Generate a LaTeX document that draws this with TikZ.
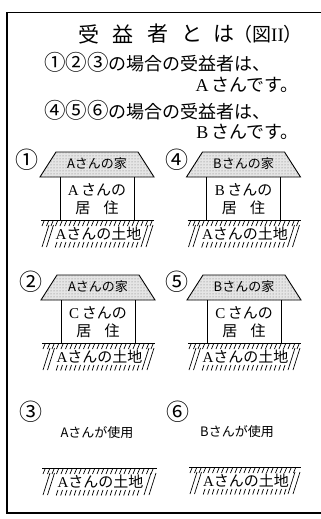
\documentclass[tikz,border=0pt]{standalone}
\usepackage{fontspec}
\setmainfont{Liberation Serif}
\newfontfamily\jp{Noto Sans CJK JP}
\newfontfamily\ser{Liberation Serif}
\newcommand\circnums[1]{{\fontsize{21.5}{21.5}\selectfont #1}}
\usetikzlibrary{patterns}
\tikzset{
  frameline/.style={line width=1.1pt},
  titlech/.style={font=\jp\fontsize{21}{21}\selectfont, inner sep=0},
  txt/.style={font=\jp\fontsize{18}{18}\selectfont, inner sep=0},
  num/.style={font=\jp\fontsize{23}{23}\selectfont, inner sep=0},
  rooflbl/.style={font=\jp\fontsize{13}{13}\selectfont, inner sep=0},
  bodylbl/.style={font=\jp\fontsize{15}{15}\selectfont, inner sep=0},
  uselbl/.style={font=\jp\fontsize{13}{13}\selectfont, inner sep=0},
  gndlbl/.style={font=\jp\fontsize{15}{15}\selectfont, inner sep=0},
  roofshape/.style={draw, line width=0.9pt, fill=black!10,
    postaction={pattern=dots, pattern color=black!55}},
  wall/.style={draw, line width=1pt},
  gndline/.style={line width=1pt},
  hatchtick/.style={line width=0.7pt},
}
% ground: #1 name, #2 x0, #3 width, #4 y, #5 owner letter
\newcommand\groundband[5]{%
  \draw[gndline] (#2,#4) -- ({#2+#3},#4);
  \foreach \t in {0,4.5,...,#3} {
    \pgfmathparse{#2+3+\t<#2+#3-1 ? 1 : 0}
    \ifnum\pgfmathresult=1
      \draw[hatchtick] ({#2+3+\t},{#4+1}) -- ++(-2,5);
    \fi
  }
  \foreach \t in {16,20.5,...,#3} {
    \pgfmathparse{#2+\t<#2+#3-14 ? 1 : 0}
    \ifnum\pgfmathresult=1
      \draw[hatchtick] ({#2+\t},{#4+22}) -- ++(-1.8,5.5);
    \fi
  }
  \draw[hatchtick] ({#2+8},{#4+5}) -- ({#2+1},{#4+27});
  \draw[hatchtick] ({#2+12.5},{#4+5}) -- ({#2+5.5},{#4+27});
  \draw[hatchtick] ({#2+#3-6},{#4+5}) -- ({#2+#3-13},{#4+27});
  \draw[hatchtick] ({#2+#3-1},{#4+5}) -- ({#2+#3-8},{#4+27});
  \node[gndlbl] (#1) at ({#2+#3/2+1},{#4+14}) {{\ser #5}さんの土地};
}
% house: #1 name, #2 cx, #3 roof top y, #4 house owner, #5 resident
\newcommand\house[5]{%
  \path[roofshape] ({#2-41},#3) -- ({#2+41},#3) -- ({#2+57},{#3+25}) -- ({#2-57},{#3+25}) -- cycle;
  \draw[wall] ({#2-37},{#3+25}) -- ({#2-37},{#3+68});
  \draw[wall] ({#2+37},{#3+25}) -- ({#2+37},{#3+68});
  \node[rooflbl] (#1roof) at (#2,{#3+12}) {#4さんの家};
  \node[bodylbl] (#1res) at (#2,{#3+38}) {{\ser #5}\,さんの};
  \node[bodylbl] (#1use) at (#2,{#3+56}) {居\hspace{0.9em}住};
  \groundband{#1land}{#2-56}{113}{#3+68}{A}
}
\begin{document}
\begin{tikzpicture}[x=1pt,y=-1pt]
\useasboundingbox (0,0) rectangle (321,519);
\fill[white] (0,0) rectangle (321,519);
% frame
\draw[frameline] (340,12.5) -- (7,12.5) -- (7,513) -- (340,513);
\draw[line width=1.8pt] (7,12.5) -- (340,12.5);
% title
\node[titlech] (t1) at (88.5,34) {受};
\node[titlech] (t2) at (122.5,34) {益};
\node[titlech] (t3) at (157.5,34) {者};
\node[titlech] (t4) at (192,34) {と};
\node[titlech] (t5) at (224,34) {は};
\node[titlech,font=\jp\fontsize{19}{19}\selectfont] (t6) at (268,34) {（図{\ser\fontsize{19}{19}\selectfont II}）};
% statements
\node[txt, anchor=west] (s1) at (44,62) {\circnums{①②③}の場合の受益者は、};
\node[txt, anchor=east] (s2) at (299,85) {{\ser A}\,さんです。};
\node[txt, anchor=west] (s3) at (44,110) {\circnums{④⑤⑥}の場合の受益者は、};
\node[txt, anchor=east] (s4) at (299,132) {{\ser B}\,さんです。};
% numbers
\node[num] (n1) at (27,160) {①};
\node[num] (n4) at (177,160) {④};
\node[num] (n2) at (31,282) {②};
\node[num] (n5) at (177,282) {⑤};
\node[num] (n3) at (31,412) {③};
\node[num] (n6) at (178,412) {⑥};
% houses
\house{h1}{97}{152}{A}{A}
\house{h4}{243.5}{152}{B}{B}
\house{h2}{98}{275}{A}{C}
\house{h5}{244}{275}{B}{C}
% bare land
\node[uselbl] (u3) at (97,433) {Aさんが使用};
\node[uselbl] (u6) at (237,432) {Bさんが使用};
\groundband{g3}{42}{115}{468}{A}
\groundband{g6}{189}{112}{467}{A}
\end{tikzpicture}
\end{document}
